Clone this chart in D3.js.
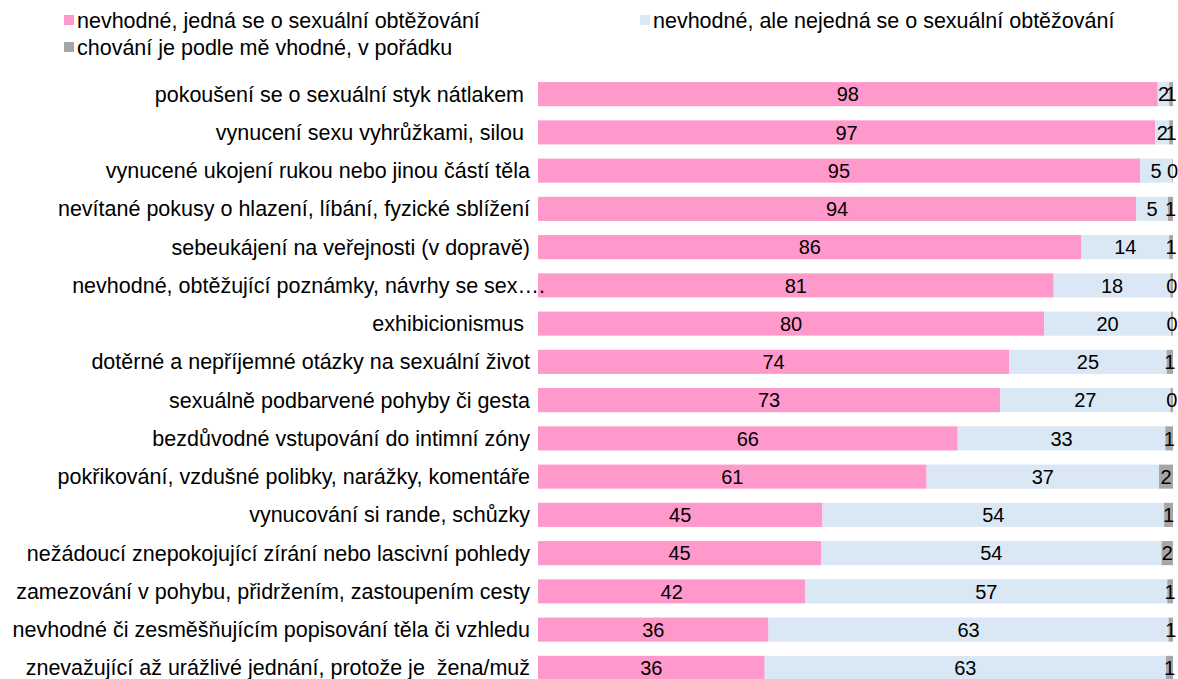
<!DOCTYPE html>
<html lang="cs">
<head>
<meta charset="UTF-8">
<title>Sexuální obtěžování</title>
<script src="https://cdn.jsdelivr.net/npm/d3@7"></script>
<style>
  body { margin: 0; background: #fff; }
  svg text { font-family: "Liberation Sans", Arial, sans-serif; fill: #000; }
  .cat { white-space: pre; }
</style>
</head>
<body>
<svg id="chart" width="1178" height="679"></svg>
<script>
// kategorie (pořadí shora dolů)
const categories = [
  "pokoušení se o sexuální styk nátlakem ",
  "vynucení sexu vyhrůžkami, silou ",
  "vynucené ukojení rukou nebo jinou částí těla",
  "nevítané pokusy o hlazení, líbání, fyzické sblížení",
  "sebeukájení na veřejnosti (v dopravě)",
  "nevhodné, obtěžující poznámky, návrhy se sex….",
  "exhibicionismus ",
  "dotěrné a nepříjemné otázky na sexuální život",
  "sexuálně podbarvené pohyby či gesta",
  "bezdůvodné vstupování do intimní zóny",
  "pokřikování, vzdušné polibky, narážky, komentáře",
  "vynucování si rande, schůzky",
  "nežádoucí znepokojující zírání nebo lascivní pohledy",
  "zamezování v pohybu, přidržením, zastoupením cesty",
  "nevhodné či zesměšňujícím popisování těla či vzhledu",
  "znevažující až urážlivé jednání, protože je  žena/muž"
];

// série (%)
const obtezovani = [97.6, 97.2, 94.8, 94.2, 85.6, 81.2, 79.7, 74.2, 72.8, 66.1, 61.2, 44.8, 44.6, 42.1, 36.3, 35.7];
const nejednaSe  = [1.8, 2.2, 5.1, 5.0, 13.8, 18.4, 20.0, 24.8, 26.8, 32.7, 36.6, 53.8, 53.6, 57.0, 63.0, 63.2];
const vporadku   = [0.6, 0.6, 0.1, 0.8, 0.6, 0.4, 0.3, 1.0, 0.4, 1.2, 2.2, 1.4, 1.8, 0.9, 0.7, 1.1];

const seriesNames = [
  "nevhodné, jedná se o sexuální obtěžování",
  "nevhodné, ale nejedná se o sexuální obtěžování",
  "chování je podle mě vhodné, v pořádku"
];
const colors = ["#ff99cc", "#dae7f4", "#a6a6a6"];

const svg = d3.select("#chart");
const plotLeft = 538, plotRight = 1173, plotTop = 75, plotBottom = 687;

const rows = categories.map((c, i) => ({
  cat: c, values: [obtezovani[i], nejednaSe[i], vporadku[i]]
}));

const x = d3.scaleLinear().domain([0, 100]).range([plotLeft, plotRight]);
const y = d3.scaleBand().domain(categories).range([plotTop, plotBottom]).paddingInner(0.37).paddingOuter(0.185);

// legenda
const legendPos = [[64, 28], [640, 28], [64, 55]];
const legend = svg.append("g").selectAll("g").data(seriesNames).join("g")
  .attr("transform", (d, i) => `translate(${legendPos[i][0]},${legendPos[i][1]})`);
legend.append("rect").attr("x", 0).attr("y", -13).attr("width", 10).attr("height", 10)
  .attr("fill", (d, i) => colors[i]);
legend.append("text").attr("x", 13).attr("y", 0).attr("font-size", 21.5).text(d => d);

// segmenty
const segs = rows.flatMap(r => {
  let acc = 0;
  return r.values.map((v, k) => {
    const s = { cat: r.cat, k, v, x0: acc, x1: acc + v };
    acc += v;
    return s;
  });
});

const barG = svg.append("g");
barG.selectAll("rect").data(segs).join("rect")
  .attr("x", d => x(d.x0))
  .attr("y", d => y(d.cat))
  .attr("width", d => x(d.x1) - x(d.x0))
  .attr("height", y.bandwidth())
  .attr("fill", d => colors[d.k]);

barG.selectAll("text").data(segs).join("text")
  .attr("x", d => (x(d.x0) + x(d.x1)) / 2)
  .attr("y", d => y(d.cat) + y.bandwidth() / 2)
  .attr("dy", "0.36em")
  .attr("text-anchor", "middle")
  .attr("font-size", 20)
  .text(d => Math.round(d.v));

// popisky kategorií (zkrácený popisek přetéká do pruhu jako v originále)
svg.append("g").selectAll("text").data(rows).join("text")
  .attr("class", "cat")
  .attr("x", d => d.cat.endsWith("….") ? plotLeft + 7 : plotLeft - 8)
  .attr("y", d => y(d.cat) + y.bandwidth() / 2)
  .attr("dy", "0.35em")
  .attr("text-anchor", "end")
  .attr("font-size", 21.5)
  .text(d => d.cat);
</script>
</body>
</html>
